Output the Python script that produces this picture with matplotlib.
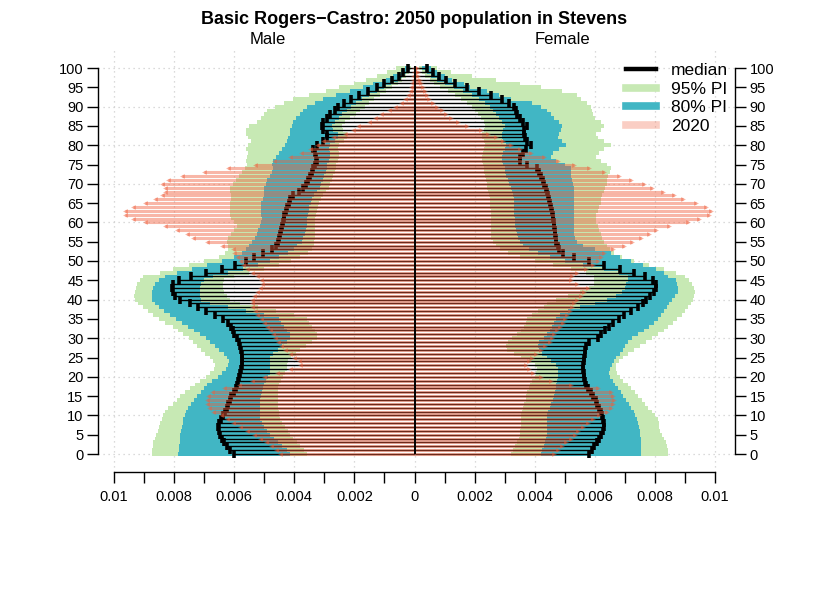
import numpy as np
import matplotlib
matplotlib.use('Agg')
import matplotlib.pyplot as plt
from matplotlib.lines import Line2D

plt.rcParams['font.family'] = ['Liberation Sans', 'DejaVu Sans']

AGES = np.arange(0, 101)
SCALE = 1e-3  # all series below are proportions in thousandths

# --- Male: median, 80% / 95% intervals, 2020 --------------------------------
M_MED = [6.00, 6.15, 6.25, 6.35, 6.42, 6.48, 6.52, 6.53, 6.52, 6.45,
         6.38, 6.30, 6.25, 6.20, 6.15, 6.10, 6.02, 5.95, 5.90, 5.87,
         5.85, 5.80, 5.77, 5.75, 5.73, 5.73, 5.74, 5.76, 5.80, 5.85,
         5.92, 6.00, 6.05, 6.10, 6.20, 6.37, 6.65, 6.95, 7.20, 7.47,
         7.80, 7.97, 8.03, 8.07, 8.03, 7.85, 7.45, 6.95, 6.40, 5.97,
         5.60, 5.35, 5.05, 4.75, 4.62, 4.55, 4.50, 4.47, 4.43, 4.40,
         4.37, 4.35, 4.33, 4.28, 4.23, 4.18, 4.13, 4.03, 3.85, 3.70,
         3.60, 3.53, 3.47, 3.42, 3.37, 3.30, 3.23, 3.27, 3.30, 3.37,
         3.23, 3.03, 2.92, 2.90, 3.05, 3.08, 3.05, 2.90, 2.80, 2.65,
         2.53, 2.35, 2.12, 1.85, 1.55, 1.25, 1.00, 0.75, 0.52, 0.37,
         0.23]
M_2020 = [4.47, 4.62, 4.78, 4.95, 5.13, 5.35, 5.58, 5.80, 6.05, 6.25,
          6.45, 6.70, 6.85, 6.91, 6.91, 6.88, 6.75, 6.35, 5.85, 5.40,
          5.00, 4.58, 4.13, 3.80, 3.86, 4.00, 4.13, 4.30, 4.45, 4.55,
          4.63, 4.70, 4.80, 4.90, 5.00, 5.10, 5.23, 5.32, 5.40, 5.42,
          5.40, 5.35, 5.25, 5.15, 5.07, 5.10, 5.23, 5.40, 5.57, 5.70,
          5.80, 5.92, 6.00, 6.05, 6.41, 6.91, 7.36, 7.56, 7.89, 8.30,
          8.97, 9.38, 9.63, 9.63, 9.38, 8.97, 8.63, 8.41, 8.30, 8.30,
          8.41, 8.19, 7.74, 7.02, 6.19, 5.32, 4.69, 4.13, 3.78, 3.47,
          3.25, 3.03, 2.70, 2.30, 2.05, 1.87, 1.53, 1.30, 1.13, 0.85,
          0.65, 0.45, 0.30, 0.22, 0.15, 0.12, 0.08, 0.06, 0.04, 0.03,
          0.02]
M_HI95 = [8.74, 8.72, 8.70, 8.69, 8.65, 8.60, 8.55, 8.50, 8.47, 8.41,
          8.38, 8.30, 8.19, 8.05, 7.92, 7.80, 7.65, 7.47, 7.30, 7.13,
          6.95, 6.80, 6.66, 6.63, 6.70, 6.80, 6.97, 7.10, 7.25, 7.36,
          7.50, 7.70, 7.86, 8.05, 8.30, 8.50, 8.70, 8.86, 9.05, 9.19,
          9.30, 9.32, 9.30, 9.28, 9.22, 9.13, 9.02, 8.47, 8.02, 7.50,
          7.00, 6.50, 6.30, 6.20, 6.20, 6.25, 6.20, 6.10, 6.00, 5.90,
          6.00, 6.10, 6.15, 6.15, 6.13, 6.13, 6.10, 6.10, 6.13, 6.13,
          6.05, 5.95, 5.85, 5.75, 5.65, 5.58, 5.60, 5.58, 5.55, 5.62,
          5.55, 5.45, 5.55, 5.60, 5.60, 5.50, 5.25, 5.10, 5.00, 4.90,
          4.65, 4.35, 4.03, 3.50, 2.95, 2.50, 2.00, 1.60, 1.25, 0.90,
          0.60]
M_HI80 = [7.86, 7.85, 7.83, 7.82, 7.80, 7.80, 7.78, 7.75, 7.72, 7.69,
          7.65, 7.60, 7.55, 7.45, 7.35, 7.24, 7.12, 7.00, 6.90, 6.75,
          6.55, 6.40, 6.28, 6.20, 6.18, 6.25, 6.35, 6.50, 6.65, 6.80,
          6.95, 7.15, 7.35, 7.55, 7.75, 7.95, 8.15, 8.35, 8.50, 8.65,
          8.72, 8.75, 8.73, 8.70, 8.62, 8.50, 8.30, 7.90, 7.40, 6.90,
          6.40, 6.00, 5.75, 5.60, 5.50, 5.40, 5.30, 5.25, 5.20, 5.15,
          5.10, 5.08, 5.10, 5.10, 5.10, 5.10, 5.05, 5.00, 5.00, 5.00,
          4.95, 4.90, 4.80, 4.75, 4.70, 4.75, 4.70, 4.60, 4.50, 4.40,
          4.30, 4.25, 4.20, 4.15, 4.15, 4.08, 4.05, 3.95, 3.80, 3.70,
          3.58, 3.30, 3.03, 2.60, 2.13, 1.70, 1.37, 0.95, 0.70, 0.45,
          0.30]
M_LO80 = [4.13, 4.25, 4.40, 4.55, 4.68, 4.80, 4.90, 5.00, 5.07, 5.13,
          5.13, 5.13, 5.13, 5.13, 5.13, 5.10, 5.08, 5.05, 5.00, 4.95,
          4.88, 4.82, 4.80, 4.80, 4.82, 4.80, 4.70, 4.55, 4.40, 4.25,
          4.13, 4.15, 4.25, 4.35, 4.45, 4.50, 5.00, 5.60, 6.20, 6.80,
          7.10, 7.15, 7.15, 7.13, 7.10, 7.00, 6.70, 6.20, 5.70, 5.20,
          4.80, 4.50, 4.20, 4.00, 3.90, 3.75, 3.70, 3.65, 3.60, 3.58,
          3.58, 3.58, 3.55, 3.52, 3.50, 3.45, 3.40, 3.35, 3.25, 3.15,
          3.10, 3.05, 3.00, 2.95, 2.92, 2.90, 2.85, 2.80, 2.80, 2.85,
          2.80, 2.65, 2.55, 2.55, 2.70, 2.75, 2.65, 2.50, 2.40, 2.25,
          2.10, 1.95, 1.75, 1.50, 1.25, 1.00, 0.78, 0.55, 0.40, 0.28,
          0.15]
M_LO95 = [3.58, 3.68, 3.80, 3.92, 4.03, 4.13, 4.22, 4.30, 4.40, 4.47,
          4.50, 4.52, 4.55, 4.55, 4.55, 4.55, 4.55, 4.55, 4.50, 4.45,
          4.38, 4.30, 4.25, 4.25, 4.20, 4.10, 3.95, 3.80, 3.60, 3.40,
          3.25, 3.25, 3.30, 3.40, 3.50, 3.58, 4.00, 4.60, 5.20, 5.80,
          6.13, 6.25, 6.35, 6.37, 6.37, 6.35, 6.00, 5.50, 5.00, 4.50,
          4.10, 3.80, 3.55, 3.40, 3.35, 3.35, 3.32, 3.30, 3.30, 3.30,
          3.30, 3.30, 3.28, 3.25, 3.22, 3.18, 3.12, 3.05, 2.95, 2.85,
          2.80, 2.75, 2.70, 2.65, 2.62, 2.60, 2.55, 2.50, 2.50, 2.55,
          2.50, 2.35, 2.25, 2.25, 2.37, 2.40, 2.30, 2.15, 1.95, 1.80,
          1.65, 1.50, 1.35, 1.15, 0.95, 0.75, 0.55, 0.40, 0.28, 0.18,
          0.10]

# --- Female -------------------------------------------------------------------
F_MED = [5.81, 5.90, 5.98, 6.07, 6.14, 6.20, 6.26, 6.29, 6.31, 6.28,
         6.24, 6.20, 6.14, 6.08, 6.03, 5.95, 5.87, 5.78, 5.70, 5.66,
         5.64, 5.63, 5.62, 5.62, 5.63, 5.64, 5.66, 5.68, 5.72, 5.80,
         6.12, 6.22, 6.35, 6.46, 6.60, 6.80, 6.98, 7.22, 7.45, 7.60,
         7.72, 7.85, 7.98, 8.03, 8.03, 7.93, 7.66, 7.30, 6.85, 6.30,
         5.80, 5.32, 4.95, 4.82, 4.76, 4.72, 4.70, 4.68, 4.67, 4.65,
         4.63, 4.62, 4.60, 4.57, 4.55, 4.52, 4.48, 4.44, 4.40, 4.36,
         4.32, 4.29, 4.22, 4.15, 4.08, 3.75, 3.51, 3.51, 3.60, 3.70,
         3.87, 3.75, 3.68, 3.64, 3.66, 3.76, 3.60, 3.50, 3.42, 3.37,
         3.31, 3.14, 2.90, 2.55, 2.15, 1.75, 1.35, 1.05, 0.80, 0.62,
         0.40]
F_2020 = [4.64, 4.76, 4.90, 5.05, 5.20, 5.35, 5.45, 5.60, 5.76, 5.95,
          6.15, 6.42, 6.55, 6.59, 6.64, 6.62, 6.53, 6.09, 5.20, 4.53,
          4.20, 3.95, 3.80, 3.70, 3.80, 3.92, 4.05, 4.20, 4.35, 4.50,
          4.57, 4.64, 4.75, 4.85, 4.95, 5.02, 5.09, 5.18, 5.25, 5.31,
          5.40, 5.53, 5.65, 5.76, 5.40, 5.20, 5.25, 5.42, 5.70, 5.95,
          6.10, 6.20, 6.30, 6.59, 6.98, 7.25, 7.53, 7.80, 8.03, 8.48,
          9.09, 9.48, 9.81, 9.87, 9.70, 9.37, 8.92, 8.64, 8.26, 7.92,
          7.64, 7.20, 6.81, 6.31, 5.81, 5.31, 4.76, 4.30, 3.87, 3.50,
          3.20, 2.95, 2.70, 2.45, 2.20, 1.75, 1.45, 1.20, 1.05, 0.90,
          0.76, 0.60, 0.48, 0.40, 0.34, 0.28, 0.22, 0.17, 0.13, 0.10,
          0.08]
F_HI95 = [8.42, 8.42, 8.40, 8.38, 8.30, 8.25, 8.17, 8.15, 8.13, 8.11,
          8.00, 7.89, 7.78, 7.66, 7.56, 7.45, 7.33, 7.22, 7.10, 6.95,
          6.85, 6.75, 6.70, 6.72, 6.80, 6.95, 7.10, 7.30, 7.50, 7.70,
          7.90, 8.10, 8.30, 8.45, 8.60, 8.75, 8.90, 9.00, 9.10, 9.20,
          9.28, 9.30, 9.32, 9.30, 9.25, 9.15, 9.00, 8.70, 8.30, 7.80,
          7.30, 6.90, 6.65, 6.50, 6.40, 6.30, 6.25, 6.20, 6.15, 6.10,
          6.05, 6.05, 6.05, 6.10, 6.15, 6.20, 6.22, 6.25, 6.30, 6.35,
          6.40, 6.42, 6.45, 6.50, 6.53, 6.40, 6.20, 6.03, 6.15, 6.31,
          6.53, 6.30, 6.10, 6.03, 6.20, 6.31, 6.20, 6.00, 5.95, 5.90,
          5.87, 5.75, 5.55, 5.42, 4.90, 4.20, 3.50, 2.70, 1.90, 1.20,
          0.75]
F_HI80 = [7.53, 7.53, 7.53, 7.53, 7.53, 7.52, 7.50, 7.48, 7.45, 7.42,
          7.35, 7.30, 7.22, 7.14, 7.05, 6.95, 6.87, 6.78, 6.68, 6.59,
          6.52, 6.48, 6.50, 6.58, 6.65, 6.72, 6.85, 6.95, 7.02, 7.09,
          7.25, 7.45, 7.64, 7.82, 7.98, 8.10, 8.20, 8.30, 8.40, 8.48,
          8.58, 8.68, 8.76, 8.76, 8.74, 8.70, 8.45, 8.31, 8.05, 7.60,
          7.20, 6.85, 6.53, 6.00, 5.60, 5.40, 5.35, 5.32, 5.31, 5.31,
          5.31, 5.31, 5.31, 5.31, 5.31, 5.31, 5.31, 5.31, 5.31, 5.31,
          5.28, 5.25, 5.22, 5.20, 5.20, 5.00, 4.70, 4.53, 4.60, 4.80,
          5.03, 4.90, 4.76, 4.80, 4.88, 4.92, 4.80, 4.65, 4.53, 4.40,
          4.20, 3.90, 3.20, 2.80, 2.42, 1.85, 1.64, 1.25, 1.00, 0.75,
          0.55]
F_LO80 = [4.20, 4.25, 4.30, 4.35, 4.38, 4.40, 4.42, 4.42, 4.42, 4.42,
          4.42, 4.45, 4.50, 4.55, 4.60, 4.65, 4.68, 4.70, 4.72, 4.74,
          4.76, 4.76, 4.76, 4.70, 4.55, 4.40, 4.25, 4.15, 4.10, 4.15,
          4.30, 4.40, 4.50, 4.58, 4.64, 4.70, 4.85, 5.10, 5.50, 6.00,
          6.40, 6.70, 6.90, 7.00, 7.05, 7.09, 7.09, 6.80, 6.30, 5.60,
          5.00, 4.50, 4.10, 3.80, 3.60, 3.50, 3.45, 3.40, 3.38, 3.35,
          3.35, 3.33, 3.31, 3.31, 3.31, 3.30, 3.30, 3.28, 3.25, 3.20,
          3.15, 3.10, 3.05, 3.00, 3.00, 2.95, 2.90, 2.90, 2.95, 3.00,
          3.05, 2.95, 2.90, 2.90, 2.95, 3.00, 2.90, 2.80, 2.70, 2.60,
          2.50, 2.35, 2.15, 1.90, 1.60, 1.30, 1.00, 0.75, 0.55, 0.40,
          0.25]
F_LO95 = [3.20, 3.28, 3.35, 3.42, 3.48, 3.50, 3.52, 3.53, 3.53, 3.53,
          3.53, 3.58, 3.62, 3.66, 3.70, 3.72, 3.76, 3.80, 3.85, 3.92,
          4.00, 4.05, 4.09, 4.00, 3.80, 3.55, 3.30, 3.09, 3.05, 3.10,
          3.25, 3.40, 3.55, 3.65, 3.72, 3.76, 3.90, 4.10, 4.30, 4.42,
          4.70, 5.10, 5.50, 5.80, 5.98, 5.98, 5.98, 5.70, 5.20, 4.60,
          4.00, 3.50, 3.10, 2.85, 2.70, 2.60, 2.55, 2.53, 2.53, 2.53,
          2.53, 2.53, 2.53, 2.53, 2.52, 2.50, 2.50, 2.48, 2.45, 2.42,
          2.40, 2.38, 2.35, 2.32, 2.30, 2.28, 2.25, 2.25, 2.28, 2.32,
          2.35, 2.30, 2.25, 2.25, 2.30, 2.35, 2.30, 2.20, 2.10, 2.00,
          1.90, 1.75, 1.55, 1.35, 1.10, 0.85, 0.65, 0.50, 0.35, 0.25,
          0.15]

XTICKS = np.round(np.arange(-10, 11) * 0.001, 3)
XTICK_LABELS = ['0.01', '', '0.008', '', '0.006', '', '0.004', '', '0.002', '',
                '0', '', '0.002', '', '0.004', '', '0.006', '', '0.008', '', '0.01']
YTICKS = list(range(0, 101, 5))

C95 = '#c7e9b4'
C80 = '#41b6c4'
C2020 = '#f05f3c'
A2020 = 0.45


def side(ax, sign, med, y2020, lo95, hi95, lo80, hi80):
    med, y2020 = np.array(med) * SCALE, np.array(y2020) * SCALE
    lo95, hi95 = np.array(lo95) * SCALE, np.array(hi95) * SCALE
    lo80, hi80 = np.array(lo80) * SCALE, np.array(hi80) * SCALE
    left95 = np.minimum(sign * lo95, sign * hi95)
    left80 = np.minimum(sign * lo80, sign * hi80)
    ax.barh(AGES, hi95 - lo95, left=left95, height=1.0, color=C95, lw=0, zorder=2)
    ax.barh(AGES, hi80 - lo80, left=left80, height=1.0, color=C80, lw=0, zorder=3)
    ax.hlines(AGES, 0, sign * med, colors='black', lw=1.0, zorder=4)
    ax.plot(sign * med, AGES, ls='none', marker='|', ms=6, mew=2.6,
            color='black', zorder=4)
    ax.hlines(AGES, 0, sign * y2020, colors=C2020, lw=2.2, alpha=A2020, zorder=5)
    ax.plot(sign * y2020, AGES, ls='none', marker='<' if sign < 0 else '>',
            ms=3.5, mew=0, color=C2020, alpha=A2020, zorder=5)


W, H = 830, 593
fig = plt.figure(figsize=(W / 100, H / 100), dpi=100)
PX_X0, PX_X1, PX_YB, PX_YT = 98, 735, 472, 50
ax = fig.add_axes([PX_X0 / W, 1 - PX_YB / H, (PX_X1 - PX_X0) / W, (PX_YB - PX_YT) / H])

xs = 601 / 0.02          # pixels per unit on x
ys = 3.86                # pixels per year of age
ax.set_xlim(-0.01 - (114 - PX_X0) / xs, 0.01 + (PX_X1 - 715) / xs)
ax.set_ylim(-(PX_YB - 454) / ys, 100 + (68 - PX_YT) / ys)

# dotted grid
for gx in XTICKS[::2]:
    ax.axvline(gx, color='#cfcfcf', lw=0.9, ls=(0, (1, 3)), zorder=1)
for gy in range(0, 101, 10):
    ax.axhline(gy, color='#cfcfcf', lw=0.9, ls=(0, (1, 3)), zorder=1)

side(ax, -1, M_MED, M_2020, M_LO95, M_HI95, M_LO80, M_HI80)
side(ax, 1, F_MED, F_2020, F_LO95, F_HI95, F_LO80, F_HI80)
ax.vlines(0, 0, 100.5, color='black', lw=1.4, zorder=6)

ax.spines['top'].set_visible(False)
ax.spines['left'].set_bounds(0, 100)
ax.spines['right'].set_bounds(0, 100)
ax.spines['bottom'].set_bounds(-0.01, 0.01)
for s in ['left', 'right', 'bottom']:
    ax.spines[s].set_linewidth(1.0)

ax.set_xticks(XTICKS)
ax.set_xticklabels(XTICK_LABELS)
ax.set_yticks(YTICKS)
ax.set_yticklabels([str(v) for v in YTICKS])
ax.tick_params(axis='both', length=8, width=1.0, labelsize=10.5, pad=2.5)
ax.tick_params(axis='y', left=True, right=True, labelleft=True, labelright=True)
ax.tick_params(axis='x', pad=5)

fig.text(414 / W, 1 - 20 / H, 'Basic Rogers\u2212Castro: 2050 population in Stevens',
         ha='center', va='center', fontsize=13, fontweight='bold')
fig.text(268 / W, 1 - 40 / H, 'Male', ha='center', va='center', fontsize=12)
fig.text(562 / W, 1 - 40 / H, 'Female', ha='center', va='center', fontsize=12)

handles = [Line2D([], [], color='black', lw=3.2),
           Line2D([], [], color=C95, lw=5.5),
           Line2D([], [], color=C80, lw=5.5),
           Line2D([], [], color=C2020, lw=5.5, alpha=0.3)]
ax.legend(handles, ['median', '95% PI', '80% PI', '2020'],
          loc='upper left', bbox_to_anchor=(626 / W, 1 - 63 / H),
          bbox_transform=fig.transFigure, frameon=False, fontsize=12.5,
          handlelength=1.75, handletextpad=0.85, labelspacing=0.2,
          borderaxespad=0, borderpad=0)

fig.savefig('out.png', dpi=100)
